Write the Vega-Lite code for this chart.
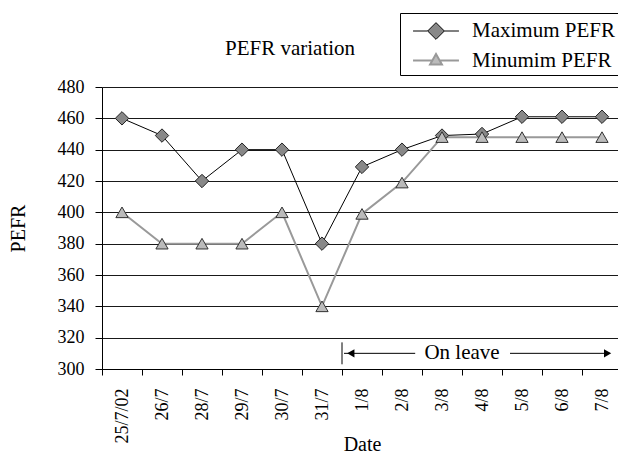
{
  "$schema": "https://vega.github.io/schema/vega-lite/v6.json",
  "width": 516,
  "height": 282,
  "autosize": {"type": "none"},
  "padding": {"left": 102, "top": 87, "right": 0, "bottom": 85},
  "background": "white",
  "title": {"text": "PEFR variation", "frame": "group", "anchor": "start", "dx": 123, "offset": -63, "baseline": "alphabetic", "font": "Liberation Serif", "fontSize": 21, "fontWeight": "normal", "color": "#000000"},
  "config": {
    "font": "Liberation Serif",
    "view": {"stroke": null},
    "axis": {"labelFont": "Liberation Serif", "titleFont": "Liberation Serif", "labelColor": "#000000", "titleColor": "#000000", "domainColor": "#000000", "tickColor": "#000000", "titleFontWeight": "normal"}
  },
  "datasets": {
    "pefr": [
      {"date": "25/7/02", "series": "Maximum PEFR", "pefr": 460},
      {"date": "26/7", "series": "Maximum PEFR", "pefr": 449},
      {"date": "28/7", "series": "Maximum PEFR", "pefr": 420},
      {"date": "29/7", "series": "Maximum PEFR", "pefr": 440},
      {"date": "30/7", "series": "Maximum PEFR", "pefr": 440},
      {"date": "31/7", "series": "Maximum PEFR", "pefr": 380},
      {"date": "1/8", "series": "Maximum PEFR", "pefr": 429},
      {"date": "2/8", "series": "Maximum PEFR", "pefr": 440},
      {"date": "3/8", "series": "Maximum PEFR", "pefr": 449},
      {"date": "4/8", "series": "Maximum PEFR", "pefr": 450},
      {"date": "5/8", "series": "Maximum PEFR", "pefr": 461},
      {"date": "6/8", "series": "Maximum PEFR", "pefr": 461},
      {"date": "7/8", "series": "Maximum PEFR", "pefr": 461},
      {"date": "25/7/02", "series": "Minumim PEFR", "pefr": 400},
      {"date": "26/7", "series": "Minumim PEFR", "pefr": 380},
      {"date": "28/7", "series": "Minumim PEFR", "pefr": 380},
      {"date": "29/7", "series": "Minumim PEFR", "pefr": 380},
      {"date": "30/7", "series": "Minumim PEFR", "pefr": 400},
      {"date": "31/7", "series": "Minumim PEFR", "pefr": 340},
      {"date": "1/8", "series": "Minumim PEFR", "pefr": 399},
      {"date": "2/8", "series": "Minumim PEFR", "pefr": 419},
      {"date": "3/8", "series": "Minumim PEFR", "pefr": 448},
      {"date": "4/8", "series": "Minumim PEFR", "pefr": 448},
      {"date": "5/8", "series": "Minumim PEFR", "pefr": 448},
      {"date": "6/8", "series": "Minumim PEFR", "pefr": 448},
      {"date": "7/8", "series": "Minumim PEFR", "pefr": 448}
    ]
  },
  "encoding": {
    "x": {
      "field": "date", "type": "nominal",
      "scale": {"domain": ["25/7/02", "26/7", "28/7", "29/7", "30/7", "31/7", "1/8", "2/8", "3/8", "4/8", "5/8", "6/8", "7/8"], "range": [0, 520], "paddingInner": 0, "paddingOuter": 0},
      "axis": {"title": "Date", "tickBand": "extent", "labelAngle": 270, "labelFontSize": 18, "labelPadding": 13, "tickSize": 6, "titleFontSize": 20, "titlePadding": -9, "grid": false, "domainWidth": 1, "labelOverlap": false}
    },
    "y": {
      "field": "pefr", "type": "quantitative",
      "scale": {"domain": [300, 480], "nice": false, "zero": false},
      "axis": {"title": "PEFR", "values": [300, 320, 340, 360, 380, 400, 420, 440, 460, 480], "tickSize": 7, "labelPadding": 11, "labelFontSize": 18, "titleFontSize": 20, "titlePadding": 29, "grid": true, "gridColor": "#000000", "gridWidth": 1, "gridOpacity": 0.9, "domainWidth": 1}
    }
  },
  "layer": [
    {
      "data": {"name": "pefr"},
      "mark": {"type": "point", "filled": true, "opacity": 0},
      "encoding": {
        "fill": {
          "field": "series", "type": "nominal",
          "scale": {"domain": ["Maximum PEFR", "Minumim PEFR"], "range": ["#888888", "#bbbbbb"]},
          "legend": {"title": null, "orient": "none", "legendX": 298, "legendY": -74, "strokeColor": "#000000", "fillColor": "#ffffff", "padding": 4, "symbolSize": 729, "rowPadding": 4, "symbolOffset": 17.5, "labelOffset": 21.5, "symbolOpacity": 1, "labelFont": "Liberation Serif", "labelFontSize": 21, "labelColor": "#000000"}
        },
        "stroke": {
          "field": "series", "type": "nominal",
          "scale": {"domain": ["Maximum PEFR", "Minumim PEFR"], "range": ["#000000", "#999999"]},
          "legend": {"title": null, "orient": "none", "legendX": 298, "legendY": -74, "strokeColor": "#000000", "fillColor": "#ffffff", "padding": 4, "symbolSize": 729, "rowPadding": 4, "symbolOffset": 17.5, "labelOffset": 21.5, "symbolOpacity": 1, "labelFont": "Liberation Serif", "labelFontSize": 21, "labelColor": "#000000"}
        },
        "strokeWidth": {
          "field": "series", "type": "nominal",
          "scale": {"domain": ["Maximum PEFR", "Minumim PEFR"], "range": [1, 2]},
          "legend": {"title": null, "orient": "none", "legendX": 298, "legendY": -74, "strokeColor": "#000000", "fillColor": "#ffffff", "padding": 4, "symbolSize": 729, "rowPadding": 4, "symbolOffset": 17.5, "labelOffset": 21.5, "symbolOpacity": 1, "labelFont": "Liberation Serif", "labelFontSize": 21, "labelColor": "#000000"}
        },
        "shape": {
          "field": "series", "type": "nominal",
          "scale": {"domain": ["Maximum PEFR", "Minumim PEFR"], "range": ["M-1.7,0L-0.62,0M-0.62,0L0,-0.62L0.62,0L0,0.62ZM0.62,0L1.7,0", "M-1.7,0L-0.26,0M0.26,0L1.7,0M-0.44,0.3L0,-0.48L0.44,0.3Z"]},
          "legend": {"title": null, "orient": "none", "legendX": 298, "legendY": -74, "strokeColor": "#000000", "fillColor": "#ffffff", "padding": 4, "symbolSize": 729, "rowPadding": 4, "symbolOffset": 17.5, "labelOffset": 21.5, "symbolOpacity": 1, "labelFont": "Liberation Serif", "labelFontSize": 21, "labelColor": "#000000"}
        }
      }
    },
    {
      "data": {"name": "pefr"},
      "mark": {"type": "line"},
      "encoding": {
        "stroke": {
          "field": "series", "type": "nominal",
          "scale": {"domain": ["Maximum PEFR", "Minumim PEFR"], "range": ["#000000", "#999999"]},
          "legend": null
        },
        "strokeWidth": {
          "field": "series", "type": "nominal",
          "scale": {"domain": ["Maximum PEFR", "Minumim PEFR"], "range": [1, 2]},
          "legend": null
        }
      }
    },
    {
      "data": {"name": "pefr"},
      "transform": [{"filter": {"field": "series", "equal": "Maximum PEFR"}}],
      "mark": {"type": "point", "shape": "diamond", "filled": true, "fill": "#888888", "stroke": "#222222", "strokeWidth": 1, "opacity": 1, "size": 180}
    },
    {
      "data": {"name": "pefr"},
      "transform": [{"filter": {"field": "series", "equal": "Minumim PEFR"}}],
      "mark": {"type": "point", "shape": "triangle-up", "filled": true, "fill": "#bbbbbb", "stroke": "#333333", "strokeWidth": 1, "opacity": 1, "size": 150}
    },
    {
      "data": {"values": [{"date": "1/8", "low": 303, "high": 317}]},
      "mark": {"type": "rule", "color": "#000000", "strokeWidth": 1},
      "encoding": {
        "x": {"field": "date", "type": "nominal", "bandPosition": 0},
        "y": {"field": "low", "type": "quantitative"},
        "y2": {"field": "high"}
      }
    },
    {
      "data": {"values": [{"date": "1/8", "end": "2/8", "pefr": 310}]},
      "mark": {"type": "rule", "color": "#000000", "strokeWidth": 1},
      "encoding": {
        "x": {"field": "date", "type": "nominal", "bandPosition": 0.05},
        "x2": {"field": "end", "bandPosition": 0.83}
      }
    },
    {
      "data": {"values": [{"date": "5/8", "end": "7/8", "pefr": 310}]},
      "mark": {"type": "rule", "color": "#000000", "strokeWidth": 1},
      "encoding": {
        "x": {"field": "date", "type": "nominal", "bandPosition": 0.2},
        "x2": {"field": "end", "bandPosition": 0.7}
      }
    },
    {
      "data": {"values": [{"date": "1/8", "pefr": 310}]},
      "mark": {"type": "point", "shape": "triangle-left", "filled": true, "color": "#000000", "opacity": 1, "size": 70},
      "encoding": {
        "x": {"field": "date", "type": "nominal", "bandPosition": 0.22}
      }
    },
    {
      "data": {"values": [{"date": "7/8", "pefr": 310}]},
      "mark": {"type": "point", "shape": "triangle-right", "filled": true, "color": "#000000", "opacity": 1, "size": 70},
      "encoding": {
        "x": {"field": "date", "type": "nominal", "bandPosition": 0.64}
      }
    },
    {
      "data": {"values": [{"date": "4/8", "pefr": 310, "label": "On leave"}]},
      "mark": {"type": "text", "font": "Liberation Serif", "fontSize": 21, "color": "#000000", "align": "center", "baseline": "middle"},
      "encoding": {
        "x": {"field": "date", "type": "nominal", "bandPosition": 0},
        "text": {"field": "label"}
      }
    }
  ]
}
